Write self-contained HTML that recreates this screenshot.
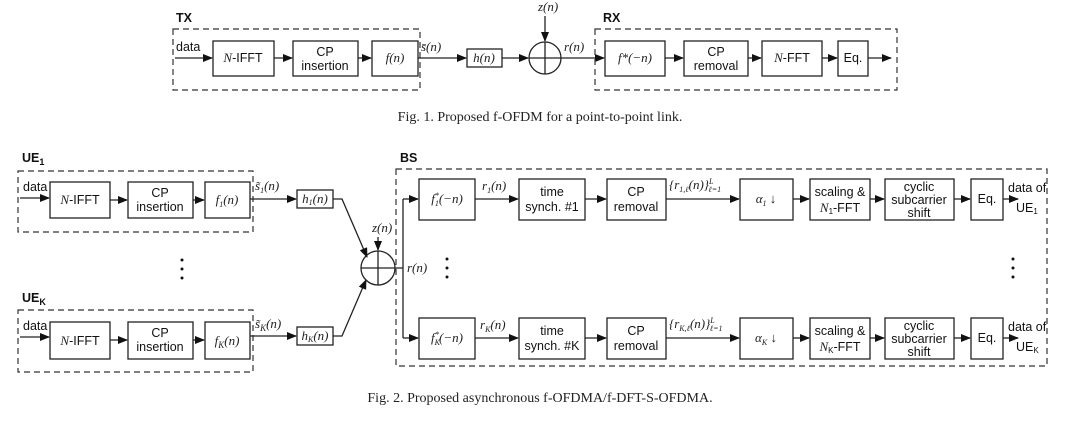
<!DOCTYPE html>
<html><head><meta charset="utf-8"><style>
body{margin:0;background:#fff}
svg{display:block}
.s{font-family:"Liberation Sans",sans-serif;font-size:12.5px;fill:#111}
.m{font-family:"Liberation Serif",serif;font-style:italic;font-size:13px;fill:#222}
.b{font-family:"Liberation Sans",sans-serif;font-weight:bold;font-size:12.5px;fill:#111}
.c{font-family:"Liberation Serif",serif;font-size:14px;fill:#222}
rect{fill:#fff;stroke:#222;stroke-width:1.3}
.d{fill:none;stroke:#333;stroke-width:1.2;stroke-dasharray:6,4}
line,polyline{stroke:#222;stroke-width:1.3;fill:none}
</style></head><body>
<svg width="1080" height="426" viewBox="0 0 1080 426" xmlns="http://www.w3.org/2000/svg">
<defs><marker id="a" markerWidth="10" markerHeight="8" refX="9" refY="4" orient="auto" markerUnits="userSpaceOnUse"><path d="M0,0 L10,4 L0,8 z" fill="#111"/></marker></defs>

<!-- Fig 1 -->
<text class="b" x="176" y="22">TX</text>
<rect class="d" x="173" y="29" width="247" height="61"/>
<text class="s" x="176" y="51">data</text>
<line x1="175" y1="58" x2="212" y2="58" marker-end="url(#a)"/>
<rect x="213" y="41" width="61" height="35"/><text class="s" x="243" y="62" text-anchor="middle"><tspan class="m">N</tspan>-IFFT</text>
<line x1="274" y1="58" x2="292" y2="58" marker-end="url(#a)"/>
<rect x="293" y="41" width="65" height="35"/><text class="s" x="325" y="56" text-anchor="middle">CP</text><text class="s" x="325" y="70" text-anchor="middle">insertion</text>
<line x1="358" y1="58" x2="371" y2="58" marker-end="url(#a)"/>
<rect x="372" y="41" width="46" height="35"/><text class="m" x="395" y="62" text-anchor="middle">f(n)</text>
<text class="m" x="421" y="51">s̄(n)</text>
<line x1="418" y1="58" x2="466" y2="58" marker-end="url(#a)"/>
<rect x="467" y="49" width="35" height="18"/><text class="m" x="484" y="62" text-anchor="middle">h(n)</text>
<line x1="502" y1="58" x2="528" y2="58" marker-end="url(#a)"/>
<circle cx="545" cy="58" r="16" fill="none" stroke="#222" stroke-width="1.3"/>
<line x1="529" y1="58" x2="561" y2="58"/><line x1="545" y1="42" x2="545" y2="74"/>
<text class="m" x="538" y="11">z(n)</text>
<line x1="545" y1="16" x2="545" y2="41" marker-end="url(#a)"/>
<text class="m" x="564" y="51">r(n)</text>
<line x1="561" y1="58" x2="604" y2="58" marker-end="url(#a)"/>
<text class="b" x="603" y="22">RX</text>
<rect class="d" x="595" y="29" width="302" height="61"/>
<rect x="605" y="41" width="60" height="35"/><text class="m" x="635" y="62" text-anchor="middle">f*(−n)</text>
<line x1="665" y1="58" x2="683" y2="58" marker-end="url(#a)"/>
<rect x="684" y="41" width="64" height="35"/><text class="s" x="716" y="56" text-anchor="middle">CP</text><text class="s" x="716" y="70" text-anchor="middle">removal</text>
<line x1="748" y1="58" x2="761" y2="58" marker-end="url(#a)"/>
<rect x="762" y="41" width="60" height="35"/><text class="s" x="792" y="62" text-anchor="middle"><tspan class="m">N</tspan>-FFT</text>
<line x1="822" y1="58" x2="837" y2="58" marker-end="url(#a)"/>
<rect x="838" y="41" width="30" height="35"/><text class="s" x="853" y="62" text-anchor="middle">Eq.</text>
<line x1="868" y1="58" x2="891" y2="58" marker-end="url(#a)"/>
<text class="c" x="540" y="121" text-anchor="middle">Fig. 1.  Proposed f-OFDM for a point-to-point link.</text>

<!-- Fig 2 UE1 -->
<text class="b" x="22" y="162">UE<tspan font-size="9" dy="3">1</tspan></text>
<rect class="d" x="18" y="171" width="235" height="61"/>
<text class="s" x="23" y="191">data</text>
<line x1="20" y1="198" x2="49" y2="198" marker-end="url(#a)"/>
<rect x="50" y="182" width="60" height="36"/><text class="s" x="80" y="204" text-anchor="middle"><tspan class="m">N</tspan>-IFFT</text>
<line x1="110" y1="200" x2="127" y2="200" marker-end="url(#a)"/>
<rect x="128" y="182" width="65" height="36"/><text class="s" x="160" y="197" text-anchor="middle">CP</text><text class="s" x="160" y="211" text-anchor="middle">insertion</text>
<line x1="193" y1="200" x2="204" y2="200" marker-end="url(#a)"/>
<rect x="205" y="182" width="45" height="36"/><text class="m" x="227" y="204" text-anchor="middle">f<tspan font-size="8" dy="3">1</tspan><tspan dy="-3">(n)</tspan></text>
<text class="m" x="255" y="190">s̃<tspan font-size="8" dy="3">1</tspan><tspan dy="-3">(n)</tspan></text>
<line x1="250" y1="199" x2="296" y2="199" marker-end="url(#a)"/>
<rect x="297" y="190" width="36" height="18"/><text class="m" x="315" y="203" text-anchor="middle">h<tspan font-size="8" dy="2">1</tspan><tspan dy="-2">(n)</tspan></text>
<polyline points="333,199 342,199 367,257" marker-end="url(#a)"/>
<circle cx="182" cy="260" r="1.5" fill="#111"/><circle cx="182" cy="269" r="1.5" fill="#111"/><circle cx="182" cy="278" r="1.5" fill="#111"/>
<!-- UEK -->
<text class="b" x="22" y="302">UE<tspan font-size="9" dy="3">K</tspan></text>
<rect class="d" x="18" y="310" width="235" height="62"/>
<text class="s" x="23" y="330">data</text>
<line x1="20" y1="337" x2="49" y2="337" marker-end="url(#a)"/>
<rect x="50" y="322" width="60" height="37"/><text class="s" x="80" y="345" text-anchor="middle"><tspan class="m">N</tspan>-IFFT</text>
<line x1="110" y1="340" x2="127" y2="340" marker-end="url(#a)"/>
<rect x="128" y="322" width="65" height="37"/><text class="s" x="160" y="337" text-anchor="middle">CP</text><text class="s" x="160" y="351" text-anchor="middle">insertion</text>
<line x1="193" y1="340" x2="204" y2="340" marker-end="url(#a)"/>
<rect x="205" y="322" width="45" height="37"/><text class="m" x="227" y="345" text-anchor="middle">f<tspan font-size="9" dy="3">K</tspan><tspan dy="-3">(n)</tspan></text>
<text class="m" x="255" y="328">s̃<tspan font-size="9" dy="3">K</tspan><tspan dy="-3">(n)</tspan></text>
<line x1="250" y1="336" x2="296" y2="336" marker-end="url(#a)"/>
<rect x="297" y="327" width="36" height="18"/><text class="m" x="315" y="340" text-anchor="middle">h<tspan font-size="8" dy="2">K</tspan><tspan dy="-2">(n)</tspan></text>
<polyline points="333,336 342,336 366,280" marker-end="url(#a)"/>
<!-- sum -->
<circle cx="378" cy="268" r="17" fill="none" stroke="#222" stroke-width="1.3"/>
<line x1="361" y1="268" x2="395" y2="268"/><line x1="378" y1="251" x2="378" y2="285"/>
<text class="m" x="372" y="232">z(n)</text>
<line x1="378" y1="237" x2="378" y2="250" marker-end="url(#a)"/>
<line x1="395" y1="268" x2="403" y2="268"/>
<text class="m" x="407" y="272">r(n)</text>
<circle cx="447" cy="259" r="1.5" fill="#111"/><circle cx="447" cy="268" r="1.5" fill="#111"/><circle cx="447" cy="277" r="1.5" fill="#111"/>
<circle cx="1013" cy="259" r="1.5" fill="#111"/><circle cx="1013" cy="268" r="1.5" fill="#111"/><circle cx="1013" cy="277" r="1.5" fill="#111"/>
<!-- BS -->
<text class="b" x="400" y="162">BS</text>
<rect class="d" x="396" y="169" width="651" height="197"/>
<polyline points="403,199 403,338"/>
<line x1="403" y1="199" x2="418" y2="199" marker-end="url(#a)"/>
<line x1="403" y1="338" x2="418" y2="338" marker-end="url(#a)"/>

<!-- row 1 -->
<rect x="419" y="179" width="56" height="41"/><text class="m" x="447" y="203" text-anchor="middle">f<tspan font-size="8" dy="3">1</tspan><tspan font-size="8" dy="-8" dx="-4">*</tspan><tspan dy="5">(−n)</tspan></text>
<text class="m" x="482" y="190">r<tspan font-size="8" dy="3">1</tspan><tspan dy="-3">(n)</tspan></text>
<line x1="475" y1="199" x2="518" y2="199" marker-end="url(#a)"/>
<rect x="519" y="179" width="66" height="41"/><text class="s" x="552" y="196" text-anchor="middle">time</text><text class="s" x="552" y="211" text-anchor="middle">synch. #1</text>
<line x1="585" y1="199" x2="606" y2="199" marker-end="url(#a)"/>
<rect x="607" y="179" width="59" height="41"/><text class="s" x="636" y="196" text-anchor="middle">CP</text><text class="s" x="636" y="211" text-anchor="middle">removal</text>
<text class="m" x="669" y="189" font-size="12">{r<tspan font-size="8" dy="3">1,ℓ</tspan><tspan dy="-3">(n)}</tspan><tspan font-size="8" dy="-5">L</tspan><tspan font-size="8" dx="-5" dy="8">ℓ=1</tspan></text>
<line x1="666" y1="199" x2="739" y2="199" marker-end="url(#a)"/>
<rect x="740" y="179" width="53" height="41"/><text class="m" x="766" y="203" text-anchor="middle">α<tspan font-size="8" dy="3">1</tspan><tspan dy="-3"> ↓</tspan></text>
<line x1="793" y1="199" x2="809" y2="199" marker-end="url(#a)"/>
<rect x="810" y="179" width="60" height="41"/><text class="s" x="840" y="196" text-anchor="middle">scaling &amp;</text><text class="s" x="840" y="212" text-anchor="middle"><tspan class="m">N</tspan><tspan font-size="8" dy="2">1</tspan><tspan dy="-2">-FFT</tspan></text>
<line x1="870" y1="199" x2="884" y2="199" marker-end="url(#a)"/>
<rect x="885" y="179" width="69" height="41"/><text class="s" x="919" y="191" text-anchor="middle">cyclic</text><text class="s" x="919" y="204" text-anchor="middle">subcarrier</text><text class="s" x="919" y="217" text-anchor="middle">shift</text>
<line x1="954" y1="199" x2="970" y2="199" marker-end="url(#a)"/>
<rect x="971" y="179" width="32" height="41"/><text class="s" x="987" y="203" text-anchor="middle">Eq.</text>
<line x1="1003" y1="199" x2="1018" y2="199" marker-end="url(#a)"/>
<text class="s" x="1008" y="192" font-size="12">data of</text><text class="s" x="1016" y="212" font-size="12">UE<tspan font-size="8" dy="2">1</tspan></text>

<!-- row K -->
<rect x="419" y="318" width="56" height="41"/><text class="m" x="447" y="342" text-anchor="middle">f<tspan font-size="8" dy="3">K</tspan><tspan font-size="8" dy="-8" dx="-5">*</tspan><tspan dy="5">(−n)</tspan></text>
<text class="m" x="480" y="329">r<tspan font-size="8" dy="3">K</tspan><tspan dy="-3">(n)</tspan></text>
<line x1="475" y1="338" x2="518" y2="338" marker-end="url(#a)"/>
<rect x="519" y="318" width="66" height="41"/><text class="s" x="552" y="335" text-anchor="middle">time</text><text class="s" x="552" y="350" text-anchor="middle">synch. #K</text>
<line x1="585" y1="338" x2="606" y2="338" marker-end="url(#a)"/>
<rect x="607" y="318" width="59" height="41"/><text class="s" x="636" y="335" text-anchor="middle">CP</text><text class="s" x="636" y="350" text-anchor="middle">removal</text>
<text class="m" x="669" y="328" font-size="12">{r<tspan font-size="8" dy="3">K,ℓ</tspan><tspan dy="-3">(n)}</tspan><tspan font-size="8" dy="-5">L</tspan><tspan font-size="8" dx="-5" dy="8">ℓ=1</tspan></text>
<line x1="666" y1="338" x2="739" y2="338" marker-end="url(#a)"/>
<rect x="740" y="318" width="53" height="41"/><text class="m" x="766" y="342" text-anchor="middle">α<tspan font-size="8" dy="3">K</tspan><tspan dy="-3"> ↓</tspan></text>
<line x1="793" y1="338" x2="809" y2="338" marker-end="url(#a)"/>
<rect x="810" y="318" width="60" height="41"/><text class="s" x="840" y="335" text-anchor="middle">scaling &amp;</text><text class="s" x="840" y="351" text-anchor="middle"><tspan class="m">N</tspan><tspan font-size="8" dy="2">K</tspan><tspan dy="-2">-FFT</tspan></text>
<line x1="870" y1="338" x2="884" y2="338" marker-end="url(#a)"/>
<rect x="885" y="318" width="69" height="41"/><text class="s" x="919" y="330" text-anchor="middle">cyclic</text><text class="s" x="919" y="343" text-anchor="middle">subcarrier</text><text class="s" x="919" y="356" text-anchor="middle">shift</text>
<line x1="954" y1="338" x2="970" y2="338" marker-end="url(#a)"/>
<rect x="971" y="318" width="32" height="41"/><text class="s" x="987" y="342" text-anchor="middle">Eq.</text>
<line x1="1003" y1="338" x2="1018" y2="338" marker-end="url(#a)"/>
<text class="s" x="1008" y="331" font-size="12">data of</text><text class="s" x="1016" y="351" font-size="12">UE<tspan font-size="8" dy="2">K</tspan></text>

<text class="c" x="540" y="402" text-anchor="middle">Fig. 2.  Proposed asynchronous f-OFDMA/f-DFT-S-OFDMA.</text>
</svg>
</body></html>
